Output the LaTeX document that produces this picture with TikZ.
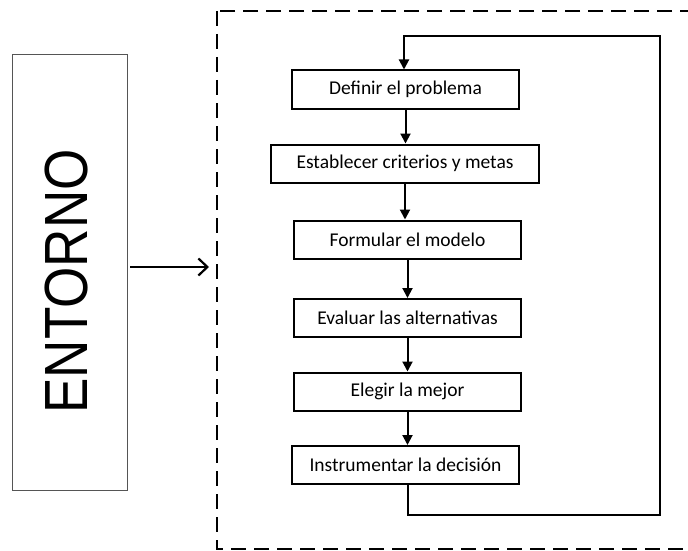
\documentclass[tikz,border=0pt]{standalone}
\usepackage{fontspec}
\setmainfont{Carlito}
\newfontfamily\entfont{Liberation Sans}
\usetikzlibrary{arrows.meta,positioning,calc}
\definecolor{ink}{HTML}{000000}
\definecolor{edge}{HTML}{555555}
\tikzset{
  stepbox/.style={draw=ink, line width=2pt, minimum height=38pt, minimum width=227pt, inner sep=0pt, font=\fontsize{19.5}{22}\selectfont, text=ink},
  envbox/.style={draw=edge, line width=0.8pt, minimum width=115pt, minimum height=436pt, inner sep=0pt},
  frame/.style={draw=ink, line width=2.4pt, dash pattern=on 15pt off 8pt},
  arr/.style={-{Triangle[length=10pt,width=10pt]}, line width=2pt, draw=ink},
  inarr/.style={-{Straight Barb[length=9pt,width=17pt,line width=2.2pt]}, line width=2.4pt, draw=ink},
}

\begin{document}
\begin{tikzpicture}[x=1pt, y=-1pt]
    \useasboundingbox (0,0) rectangle (688,551);
    % system boundary
    \draw[frame] (217,11) rectangle (700,549);
    % environment
    \node[envbox] (ent) at (69.5,272) {};
    \node[rotate=90, inner sep=0pt, font=\entfont\fontsize{61}{61}\selectfont] (entlbl) at (67,281.5) {\scalebox{0.87}[1]{ENTORNO}};
    \coordinate (inlet) at (209,267);
    \draw[inarr] ([xshift=3pt]ent.east |- inlet) -- (inlet);
    % decision steps
    \node[stepbox] (b1) at (405.5,89.5) {Definir el problema};
    \node[stepbox, minimum width=268pt] (b2) at (405,163.5) {Establecer criterios y metas};
    \node[stepbox] (b3) at (407.5,239.5) {Formular el modelo};
    \node[stepbox] (b4) at (407.5,318) {Evaluar las alternativas};
    \node[stepbox] (b5) at (407.5,391.5) {Elegir la mejor};
    \node[stepbox] (b6) at (405.5,465) {Instrumentar la decisi\'on};
    \foreach \a/\b in {b1/b2, b2/b3, b3/b4, b4/b5, b5/b6}
      \draw[arr] (\a.south) -- (\a.south |- \b.north);
    % feedback loop
    \coordinate (ret) at (660,515);
    \coordinate (top) at (660,36);
    \draw[arr] ([xshift=2.5pt]b6.south) |- (ret) -- (top) -| ([xshift=-1.5pt]b1.north);
\end{tikzpicture}
\end{document}
